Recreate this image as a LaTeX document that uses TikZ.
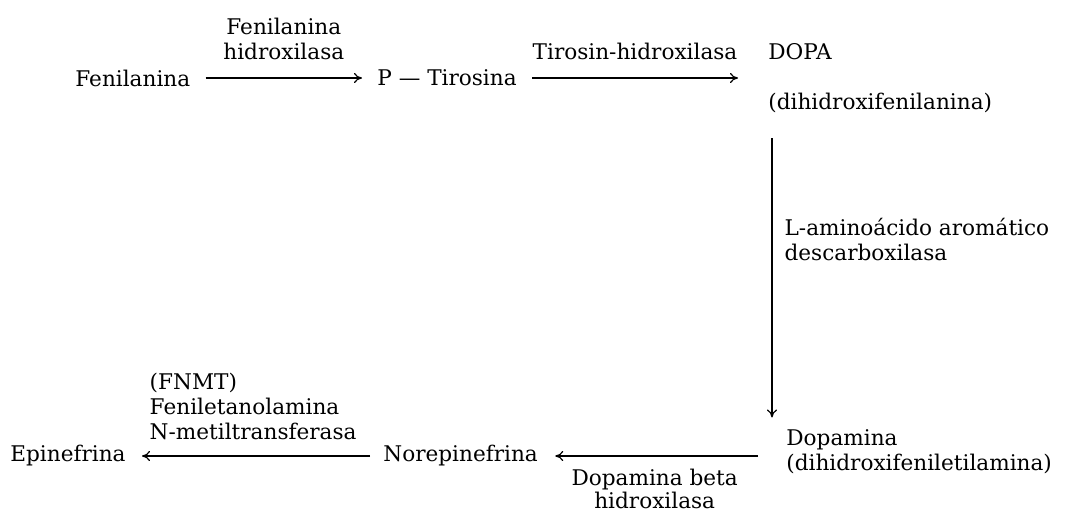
\documentclass[tikz,border=0pt]{standalone}
\usepackage{fontspec}
\setmainfont{DejaVu Serif}
\usetikzlibrary{arrows.meta,calc}

\begin{document}
\begin{tikzpicture}[x=0.5pt,y=-0.5pt,>={To[length=4pt,width=5pt]},
  every node/.style={font=\fontsize{10.8}{12.5}\selectfont,inner sep=0pt},
  paso/.style={anchor=west,align=left},
  reac/.style={->,line width=0.6pt}]
\useasboundingbox (0,0) rectangle (1066,516);
% metabolitos
\node[paso] (fen) at (75,78) {Fenilanina};
\node[paso] (tir) at (377,78) {P — Tirosina};
\node[paso] (dopa) at (768,78) {DOPA\\[12.5pt](dihidroxifenilanina)};
\node[paso] (dopam) at (786,452) {Dopamina\\(dihidroxifeniletilamina)};
\node[paso] (norep) at (383,456) {Norepinefrina};
\node[paso] (epi) at (10,456) {Epinefrina};
% enzimas
\draw[reac,shorten <=7.5pt,shorten >=7.5pt] (fen) -- (tir)
  node[midway,above=9pt,align=center] {Fenilanina\\hidroxilasa};
\draw[reac,shorten <=7.5pt,shorten >=15pt] (tir) -- (dopa.west)
  node[pos=0.47,above=9pt] {Tirosin-hidroxilasa};
\draw[reac,shorten <=12.5pt,shorten >=6pt] ([xshift=2pt]dopa.south west) -- ([xshift=-7pt]dopam.north west)
  node[pos=0.4,right=6pt,align=left] {L-aminoácido aromático\\descarboxilasa};
\draw[reac,shorten <=14pt,shorten >=8.5pt] (norep -| dopam.west) -- (norep.east)
  node[pos=0.53,below=6pt,align=center,font=\fontsize{10.8}{11.5}\selectfont] {Dopamina beta\\hidroxilasa};
\draw[reac,shorten <=6.5pt,shorten >=8pt] (norep) -- (epi)
  node[pos=0.91,anchor=south west,yshift=8pt,align=left] {(FNMT)\\Feniletanolamina\\N-metiltransferasa};
\end{tikzpicture}
\end{document}
